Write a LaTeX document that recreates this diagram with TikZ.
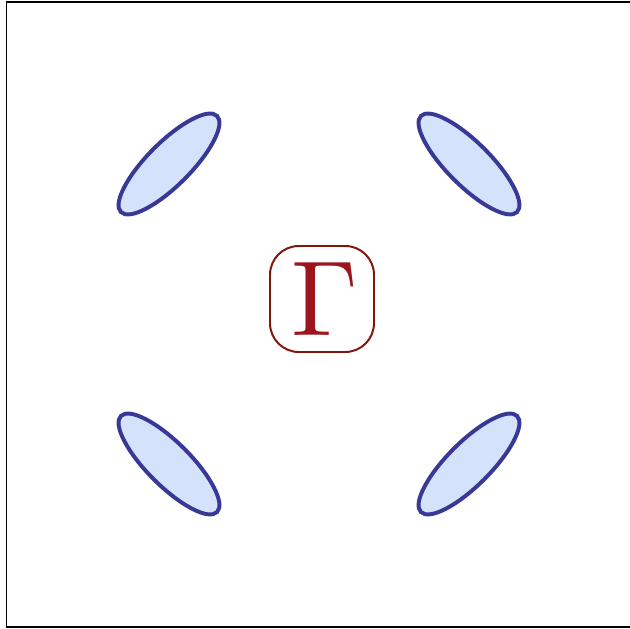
\documentclass[tikz,border=0pt]{standalone}
\usepackage{graphicx}
\usepackage{tikz}

\definecolor{pocketfill}{RGB}{212,226,252}
\definecolor{pocketline}{RGB}{56,56,150}
\definecolor{gammared}{RGB}{155,20,30}
\definecolor{gammaline}{RGB}{128,22,12}

\begin{document}
\begin{tikzpicture}[pocket/.style={draw=pocketline, fill=pocketfill, line width=2.8pt}]
  % ---- Canvas and frame ----
  \useasboundingbox (0,0) rectangle (15.75,15.725);
  \draw[line width=1pt] (0.16,0.05) rectangle (15.79,15.675);
  % ---- Centre point ----
  \node[draw=gammaline, line width=1.4pt, rounded corners=0.72cm,
        minimum width=2.6cm, minimum height=2.65cm, text=gammared,
        inner sep=0pt] (gamma) at (8.05,8.25) {\scalebox{7.6}{\hspace{0.6pt}$\Gamma$}};
  % ---- Pockets ----
  \foreach \x/\y/\a in {4.225/11.625/45, 11.725/11.625/-45,
                        4.225/4.125/-45, 11.725/4.125/45} {
    \draw[pocket, rotate around={\a:(\x,\y)}] (\x,\y) ellipse (1.7cm and 0.54cm);
  }
\end{tikzpicture}
\end{document}
